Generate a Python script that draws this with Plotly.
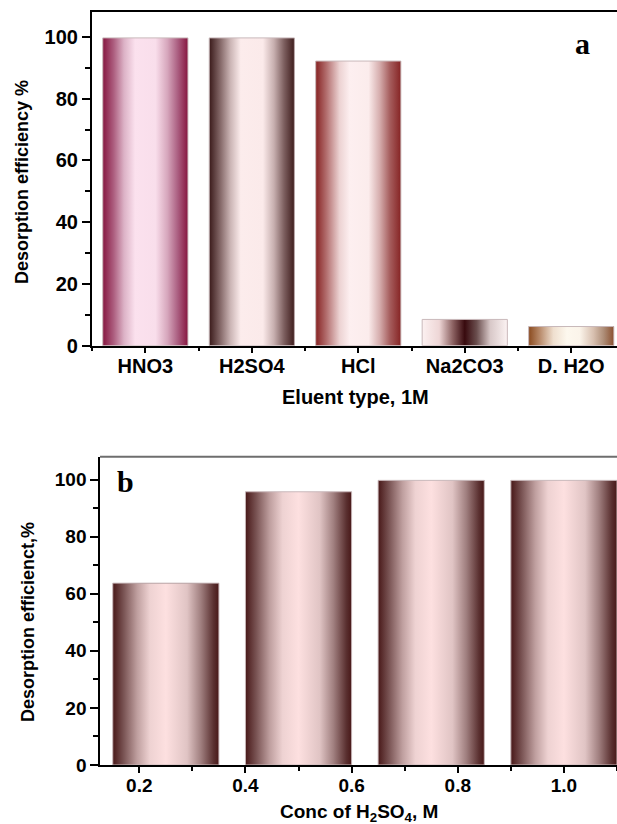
import plotly.graph_objects as go

# ---------------- data ----------------
eluents = ["HNO3", "H2SO4", "HCl", "Na2CO3", "D. H2O"]
eluent_eff = [99.7, 99.7, 92.2, 8.5, 6.2]

conc = [0.25, 0.5, 0.75, 1.0]
conc_eff = [63.7, 95.7, 99.7, 99.7]

# ---------------- styles ----------------
GRAD_A = {
    "HNO3": [(0, '#861640'), (0.13, '#ad5f80'), (0.25, '#dcb2c6'), (0.38, '#fbe1ee'),
             (0.62, '#f9deeb'), (0.76, '#d6a6bc'), (0.88, '#ab5f81'), (1, '#861640')],
    "H2SO4": [(0, '#3a1a1a'), (0.13, '#846868'), (0.25, '#cbb5b5'), (0.37, '#fcecec'),
              (0.63, '#fbeaea'), (0.76, '#c7afaf'), (0.88, '#7c5e5e'), (1, '#3e1c1c')],
    "HCl": [(0, '#862222'), (0.12, '#b06a6a'), (0.28, '#ecd2d2'), (0.4, '#fdeff0'),
            (0.62, '#fbecec'), (0.75, '#d6aeae'), (0.87, '#a65e5e'), (1, '#862424')],
    "Na2CO3": [(0, '#fcf1f1'), (0.2, '#eed6d6'), (0.36, '#8c6262'), (0.5, '#380a0e'),
               (0.64, '#6a4e4e'), (0.8, '#d8c8c8'), (1, '#fcf3f3')],
    "D. H2O": [(0, '#8a4a1e'), (0.13, '#b88a6a'), (0.29, '#efdfcf'), (0.45, '#fdf8ee'),
               (0.6, '#fbf4ea'), (0.76, '#d8c0b0'), (0.88, '#ae8e78'), (1, '#8a5030')],
}
GRAD_B = [(0, '#481818'), (0.1, '#785252'), (0.23, '#bf9f9f'), (0.35, '#eed2d2'),
          (0.5, '#fde0e0'), (0.7, '#e0c4c4'), (0.83, '#a07f7f'), (0.95, '#5a3030'), (1, '#481818')]

BW_A = 0.8
BW_B = 0.2
FONT = "Liberation Sans"
OUTLINE = "#c9b9bb"

fig = go.Figure()
xa = list(range(len(eluents)))


def add_bars(x, y, bw, grads, xaxis, yaxis):
    # real bars (base layer)
    fig.add_trace(go.Bar(
        x=x, y=y, width=bw,
        marker=dict(color=[g[0][1] for g in grads], line=dict(width=0)),
        xaxis=xaxis, yaxis=yaxis, showlegend=False,
        hovertemplate="%{y}<extra></extra>"))
    # gradient shading on each bar, derived from the same data
    for xc, v, g in zip(x, y, grads):
        x0, x1 = xc - bw / 2, xc + bw / 2
        fig.add_trace(go.Scatter(
            x=[x0, x0, x1, x1, x0], y=[0, v, v, 0, 0],
            mode="lines", fill="toself",
            line=dict(color=OUTLINE, width=1),
            fillgradient=dict(type="horizontal", colorscale=[[p, c] for p, c in g]),
            xaxis=xaxis, yaxis=yaxis, showlegend=False, hoverinfo="skip"))


add_bars(xa, eluent_eff, BW_A, [GRAD_A[e] for e in eluents], "x", "y")
add_bars(conc, conc_eff, BW_B, [GRAD_B for _ in conc], "x2", "y2")


def bold(size):
    return dict(family=FONT, size=size, color="black", weight="bold")


axis_common = dict(showgrid=False, zeroline=False, linecolor="black", linewidth=1.5,
                   ticks="outside", tickcolor="black", tickwidth=1.5, automargin=False)
minor_y = dict(tick0=10, dtick=20, ticks="outside", ticklen=5, tickwidth=1.5, tickcolor="black")

fig.update_layout(
    width=617, height=824,
    margin=dict(l=0, r=0, t=0, b=0, autoexpand=False),
    paper_bgcolor="white", plot_bgcolor="white",
    barmode="overlay", bargap=0,
    xaxis=dict(domain=[0.1486, 1.0], anchor="y", range=[-0.504, 4.43],
               tickvals=xa, ticktext=eluents, ticklen=6, mirror=True, tickfont=bold(20),
               ticklabelstandoff=-4,
               minor=dict(tick0=0.5, dtick=1, ticks="outside", ticklen=4, tickwidth=1.5, tickcolor="black"),
               **axis_common),
    yaxis=dict(domain=[0.5805, 0.9851], anchor="x", range=[0, 108],
               tickvals=[0, 20, 40, 60, 80, 100], ticklen=8, ticklabelstandoff=0,
               tickfont=bold(20), minor=minor_y, **axis_common),
    xaxis2=dict(domain=[0.1621, 1.0], anchor="y2", range=[0.126, 1.1],
                tickvals=[0.2, 0.4, 0.6, 0.8, 1.0], ticktext=["0.2", "0.4", "0.6", "0.8", "1.0"],
                ticklen=6, tickfont=bold(19), ticklabelstandoff=-4,
                minor=dict(tick0=0.1, dtick=0.2, ticks="outside", ticklen=4, tickwidth=1.5, tickcolor="black"),
                **axis_common),
    yaxis2=dict(domain=[0.0716, 0.4458], anchor="x2", range=[0, 108],
                tickvals=[0, 20, 40, 60, 80, 100], ticklen=8, ticklabelstandoff=0,
                tickfont=bold(19), minor=minor_y, **axis_common),
)

fig.add_shape(type="line", xref="x2 domain", yref="y2 domain", x0=0, x1=1, y0=1, y1=1,
              line=dict(color="#6e6e6e", width=2))

fig.add_annotation(text="Eluent type, 1M", xref="paper", yref="paper",
                   x=355 / 617, y=1 - 397 / 824, showarrow=False,
                   xanchor="center", yanchor="middle", font=bold(20))
fig.add_annotation(text="Conc of H<sub>2</sub>SO<sub>4</sub>, M", xref="paper", yref="paper",
                   x=359 / 617, y=1 - 813 / 824, showarrow=False,
                   xanchor="center", yanchor="middle", font=bold(19))

fig.add_annotation(text="Desorption efficiency %", xref="paper", yref="paper",
                   x=22 / 617, y=1 - 182 / 824, textangle=-90, showarrow=False,
                   xanchor="center", yanchor="middle", font=bold(18))
fig.add_annotation(text="Desorption efficienct,%", xref="paper", yref="paper",
                   x=28 / 617, y=1 - 622 / 824, textangle=-90, showarrow=False,
                   xanchor="center", yanchor="middle", font=bold(18))

serif = dict(family="Liberation Serif", size=30, color="black", weight="bold")
fig.add_annotation(text="a", xref="paper", yref="paper", x=582 / 617, y=1 - 44 / 824,
                   showarrow=False, xanchor="center", yanchor="middle", font=serif)
fig.add_annotation(text="b", xref="paper", yref="paper", x=125 / 617, y=1 - 481 / 824,
                   showarrow=False, xanchor="center", yanchor="middle", font=serif)

fig.write_html("out.html")
